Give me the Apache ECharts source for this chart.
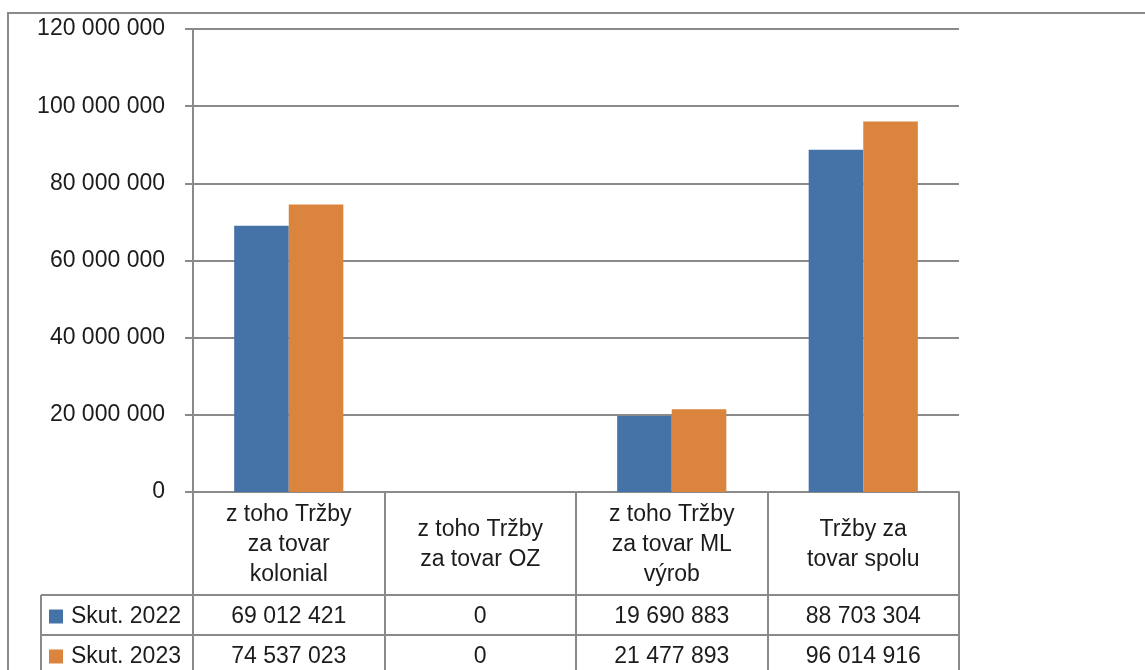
<!DOCTYPE html>
<html>
<head>
<meta charset="utf-8">
<script src="https://cdn.jsdelivr.net/npm/echarts@6/dist/echarts.min.js"></script>
<style>
  html, body { margin: 0; padding: 0; background: #fff; }
  #chart { width: 1145px; height: 670px; }
</style>
</head>
<body>
<div id="chart"></div>
<script>
// Categories (table header) and the two yearly series
const categories = [
  'z toho Tržby\nza tovar\nkolonial',
  'z toho Tržby\nza tovar OZ',
  'z toho Tržby\nza tovar ML\nvýrob',
  'Tržby za\ntovar spolu'
];
const seriesNames = ['Skut. 2022', 'Skut. 2023'];
const values2022 = [69012421, 0, 19690883, 88703304];
const values2023 = [74537023, 0, 21477893, 96014916];
const yMin = 0;
const yMax = 120000000;
const yStep = 20000000;

// Layout
const W = 1145;
const GRID = { left: 193, right: 186, top: 29, bottom: 178 };
const HEADER_H = 103;   // height of the category header row under the axis
const ROW_H = 40;       // height of each data row
const TABLE_LEFT = 41;
const FONT = 'Liberation Sans';
const FS = 23;
const TXT = '#1c1c1c';
const LINE = '#8a8a8a';
const COLORS = ['#4572A7', '#DB843D'];

function fmt(v) {
  return String(v).replace(/\B(?=(\d{3})+(?!\d))/g, ' ');
}

const chart = echarts.init(document.getElementById('chart'));

const axisY = 670 - GRID.bottom;
const gridRight = W - GRID.right;
const row1Top = axisY + HEADER_H;
const row2Top = row1Top + ROW_H;
const row3Top = row2Top + ROW_H;

// Data-table rules: row separators plus the left edge of the row-label column
const tableLines = [row1Top, row2Top, row3Top].map(function (y) {
  return {
    type: 'line',
    shape: { x1: TABLE_LEFT, y1: y, x2: gridRight, y2: y },
    style: { stroke: LINE, lineWidth: 2 }
  };
});
tableLines.push({
  type: 'line',
  shape: { x1: TABLE_LEFT, y1: row1Top, x2: TABLE_LEFT, y2: row3Top },
  style: { stroke: LINE, lineWidth: 2 }
});

// One legend per table row acts as the row label with its colour key
function rowLegend(name, top) {
  return {
    data: [name],
    orient: 'vertical',
    left: TABLE_LEFT + 8,
    top: top,
    padding: 0,
    icon: 'rect',
    itemWidth: 14,
    itemHeight: 14,
    selectedMode: false,
    textStyle: { fontFamily: FONT, fontSize: FS, color: TXT, lineHeight: 20, padding: [0, 0, 0, 3] }
  };
}

// Extra category axes whose labels fill the value cells of a table row
function valueAxis(values, margin) {
  return {
    type: 'category',
    data: categories,
    position: 'bottom',
    gridIndex: 0,
    axisLine: { show: false },
    axisTick: { show: false },
    axisLabel: {
      interval: 0,
      margin: margin,
      verticalAlign: 'middle',
      fontFamily: FONT,
      fontSize: FS,
      color: TXT,
      formatter: function (v, i) { return fmt(values[i]); }
    }
  };
}

chart.setOption({
  animation: false,
  backgroundColor: '#fff',
  color: COLORS,
  legend: [
    rowLegend(seriesNames[0], row1Top + 10),
    rowLegend(seriesNames[1], row2Top + 10)
  ],
  grid: {
    left: GRID.left, right: GRID.right, top: GRID.top, bottom: GRID.bottom,
    containLabel: false
  },
  xAxis: [
    {
      type: 'category',
      data: categories,
      position: 'bottom',
      axisLine: { show: true, lineStyle: { color: LINE, width: 2 } },
      axisTick: { show: true, length: 190, lineStyle: { color: LINE, width: 2 } },
      axisLabel: {
        interval: 0,
        margin: HEADER_H / 2 + 1,
        verticalAlign: 'middle',
        align: 'center',
        fontFamily: FONT,
        fontSize: FS,
        lineHeight: 30,
        color: TXT
      }
    },
    valueAxis(values2022, HEADER_H + ROW_H / 2 + 2),
    valueAxis(values2023, HEADER_H + ROW_H * 1.5 + 2)
  ],
  yAxis: {
    type: 'value',
    min: yMin,
    max: yMax,
    interval: yStep,
    axisLine: { show: true, lineStyle: { color: LINE, width: 2 } },
    axisTick: { show: true, length: 8, lineStyle: { color: LINE, width: 2 } },
    splitLine: { show: true, lineStyle: { color: LINE, width: 2 } },
    axisLabel: {
      margin: 28,
      fontFamily: FONT,
      fontSize: FS,
      color: TXT,
      padding: [3, 0, 0, 0],
      formatter: function (v) { return fmt(v); }
    }
  },
  series: [
    {
      name: seriesNames[0], type: 'bar', data: values2022,
      barGap: 0, barCategoryGap: '43%', xAxisIndex: 0
    },
    {
      name: seriesNames[1], type: 'bar', data: values2023,
      barGap: 0, barCategoryGap: '43%', xAxisIndex: 0
    }
  ],
  graphic: [
    {
      type: 'rect',
      shape: { x: 8, y: 13, width: 1300, height: 800 },
      style: { fill: null, stroke: LINE, lineWidth: 2 },
      silent: true
    }
  ].concat(tableLines)
});
</script>
</body>
</html>
